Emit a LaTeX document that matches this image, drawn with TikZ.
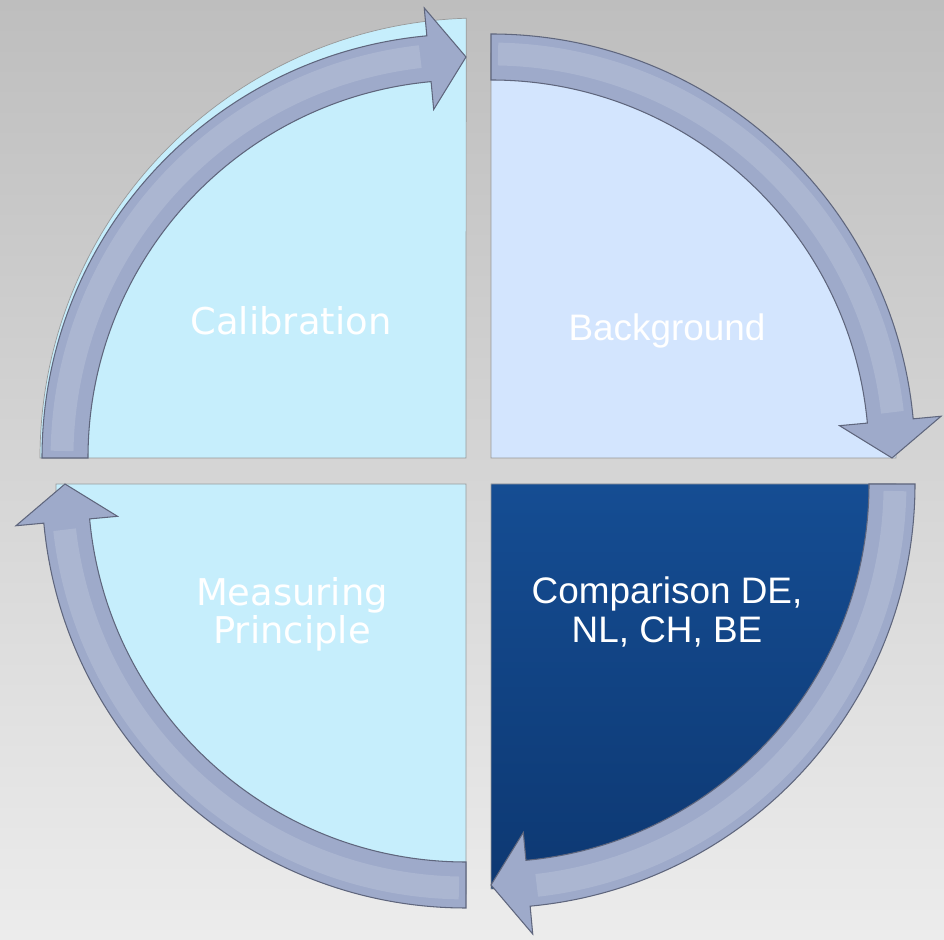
\documentclass[tikz,border=0pt]{standalone}
\usepackage{fontspec}
\newfontfamily\calfont{DejaVu Sans}
\newfontfamily\bgfont{Liberation Sans}
\definecolor{bandfill}{RGB}{158,170,202}
\definecolor{bandline}{RGB}{95,102,125}
\definecolor{paleblue}{RGB}{198,238,252}
\definecolor{skyblue}{RGB}{211,229,254}
\definecolor{deepblue}{RGB}{21,77,147}
\definecolor{deepblue2}{RGB}{13,56,114}
\definecolor{photogray}{RGB}{190,190,190}
\definecolor{photolight}{RGB}{236,236,236}
\tikzset{
  band/.style={fill=bandfill, draw=bandline, line width=0.6pt},
  bandshine/.style={draw=white, opacity=0.14, line width=13pt},
  quarter/.style={draw=gray!80, line width=0.4pt},
  qtext/.style={text=white, align=center}
}
\begin{document}
\begin{tikzpicture}[x=0.02cm,y=0.02cm]
\useasboundingbox (0,0) rectangle (944,940);
\shade[top color=photogray, bottom color=photolight] (0,0) rectangle (944,940);
% corners of the four quarters
\coordinate (tl) at (466,482);
\coordinate (tr) at (491,482);
\coordinate (bl) at (466,456);
\coordinate (br) at (491,456);
% quarters
\path[quarter, fill=paleblue] (tl) -- (40,482) arc[start angle=180, end angle=91.8, radius=440] -- cycle;
\path[quarter, fill=skyblue] (tr) -- ++(0,405) arc[start angle=90, end angle=0, radius=405] -- cycle;
\path[quarter, fill=paleblue] (bl) -- ++(-410,0) arc[start angle=180, end angle=270, radius=410] -- cycle;
\shade[quarter, top color=deepblue, bottom color=deepblue2] (br) -- ++(405,0) arc[start angle=0, end angle=-90, radius=405] -- cycle;
% curved arrows
\foreach \c/\r in {tl/90, tr/0, br/-90, bl/180}{
  \path[band, shift={(\c)}, rotate=\r] (90:378) -- (90:424)
    arc[start angle=90, end angle=5.3, radius=424] -- (5.3:452) -- (0:401)
    -- (5.3:350) -- (5.3:378) arc[start angle=5.3, end angle=90, radius=378] -- cycle;
  \draw[bandshine, shift={(\c)}, rotate=\r] (89:404) arc[start angle=89, end angle=6.5, radius=404];
}
% texts
\node[qtext, font=\calfont\fontsize{21}{25}\selectfont] (calib) at (291,619) {Calibration};
\node[qtext, font=\bgfont\fontsize{21}{25}\selectfont] (backg) at (667,609) {Background};
\node[qtext, font=\calfont\fontsize{21}{21.5}\selectfont] (measur) at (292,326) {Measuring\\Principle};
\node[qtext, font=\bgfont\fontsize{21}{22.7}\selectfont] (compar) at (667,328) {Comparison DE,\\NL, CH, BE};
\end{tikzpicture}
\end{document}
